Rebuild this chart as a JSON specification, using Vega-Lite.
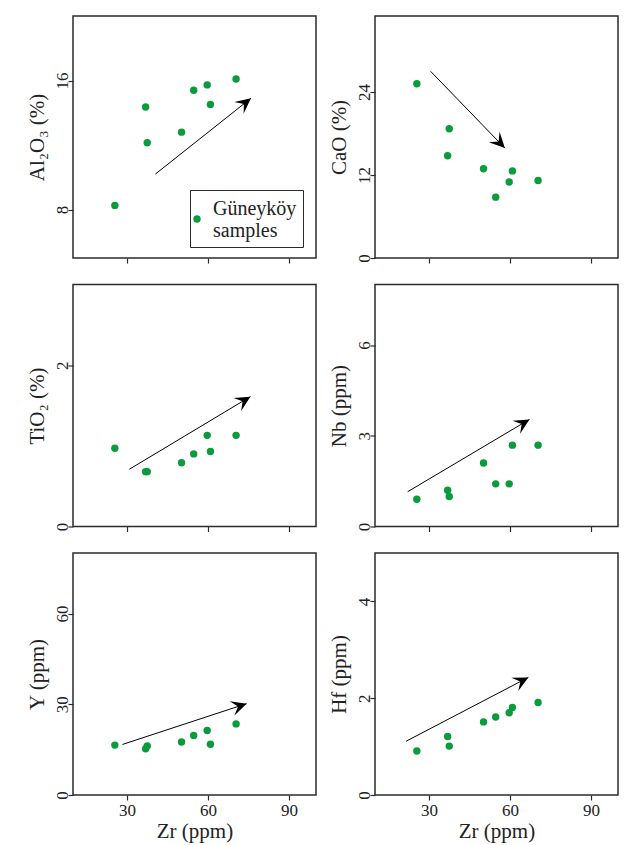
{
  "$schema": "https://vega.github.io/schema/vega-lite/v6.json",
  "padding": {"left": 25, "top": 15, "right": 5, "bottom": 5},
  "background": "white",
  "bounds": "flush",
  "columns": 2,
  "spacing": {"row": 26.5, "column": 59},
  "resolve": {"scale": {"color": "independent"}, "legend": {"color": "independent"}},
  "datasets": {
    "samples": [
      {"sample": "S1", "group": "Güneyköy samples", "Zr": 25.5, "Al2O3": 8.26, "CaO": 25.2, "TiO2": 0.97, "Nb": 0.9, "Y": 16.5, "Hf": 0.91},
      {"sample": "S2", "group": "Güneyköy samples", "Zr": 36.9, "Al2O3": 14.36, "CaO": 14.8, "TiO2": 0.68, "Nb": 1.2, "Y": 15.3, "Hf": 1.21},
      {"sample": "S3", "group": "Güneyköy samples", "Zr": 37.5, "Al2O3": 12.14, "CaO": 18.7, "TiO2": 0.68, "Nb": 0.99, "Y": 16.2, "Hf": 1.01},
      {"sample": "S4", "group": "Güneyköy samples", "Zr": 50.2, "Al2O3": 12.8, "CaO": 12.9, "TiO2": 0.79, "Nb": 2.1, "Y": 17.5, "Hf": 1.51},
      {"sample": "S5", "group": "Güneyköy samples", "Zr": 54.7, "Al2O3": 15.4, "CaO": 8.8, "TiO2": 0.9, "Nb": 1.41, "Y": 19.7, "Hf": 1.61},
      {"sample": "S6", "group": "Güneyköy samples", "Zr": 59.7, "Al2O3": 15.73, "CaO": 11.0, "TiO2": 1.13, "Nb": 1.41, "Y": 21.3, "Hf": 1.7},
      {"sample": "S7", "group": "Güneyköy samples", "Zr": 60.9, "Al2O3": 14.52, "CaO": 12.6, "TiO2": 0.93, "Nb": 2.69, "Y": 16.8, "Hf": 1.81},
      {"sample": "S8", "group": "Güneyköy samples", "Zr": 70.4, "Al2O3": 16.1, "CaO": 11.2, "TiO2": 1.13, "Nb": 2.69, "Y": 23.5, "Hf": 1.91}
    ],
    "arrows": [
      {"panel": "Al2O3", "x1": 40.5, "y1": 10.2, "x2": 75.9, "y2": 14.9},
      {"panel": "CaO", "x1": 30.6, "y1": 27.0, "x2": 58.1, "y2": 15.9},
      {"panel": "TiO2", "x1": 30.9, "y1": 0.71, "x2": 75.7, "y2": 1.61},
      {"panel": "Nb", "x1": 22.1, "y1": 1.15, "x2": 67.2, "y2": 3.54},
      {"panel": "Y", "x1": 28.3, "y1": 16.7, "x2": 74.3, "y2": 30.2},
      {"panel": "Hf", "x1": 21.5, "y1": 1.11, "x2": 66.8, "y2": 2.43}
    ]
  },
  "concat": [
    {
      "width": 243, "height": 242,
      "layer": [
        {"data": {"name": "samples"}, "mark": {"type": "point", "filled": true, "size": 55, "opacity": 1},
         "encoding": {
           "x": {"field": "Zr", "type": "quantitative", "title": null, "scale": {"domain": [10, 100], "nice": false, "zero": false}, "axis": {"values": [30, 60, 90], "labels": false}},
           "y": {"field": "Al2O3", "type": "quantitative", "title": "Al₂O₃ (%)", "scale": {"domain": [5, 20], "nice": false, "zero": false}, "axis": {"values": [8, 16]}},
           "color": {"field": "group", "type": "nominal", "scale": {"range": ["#0a9b3c"]},
             "legend": {"orient": "none", "legendX": 117, "legendY": 174, "title": " ", "titleFontSize": 10, "titlePadding": 3, "labelExpr": "split(datum.label, ' ')"}}
         }},
        {"data": {"name": "arrows"}, "transform": [{"filter": "datum.panel == 'Al2O3'"}], "mark": {"type": "rule", "color": "black", "strokeWidth": 1},
         "encoding": {"x": {"field": "x1", "type": "quantitative", "title": null}, "y": {"field": "y1", "type": "quantitative", "title": "Al₂O₃ (%)"}, "x2": {"field": "x2"}, "y2": {"field": "y2"}}},
        {"data": {"name": "arrows"}, "transform": [{"filter": "datum.panel == 'Al2O3'"}], "mark": {"type": "point", "shape": "M0,0L-1.8,-0.88L-1.06,0L-1.8,0.88Z", "filled": true, "color": "black", "opacity": 1, "size": 289, "angle": 321.5},
         "encoding": {"x": {"field": "x2", "type": "quantitative", "title": null}, "y": {"field": "y2", "type": "quantitative", "title": "Al₂O₃ (%)"}}}
      ]
    },
    {
      "width": 243, "height": 242,
      "layer": [
        {"data": {"name": "samples"}, "mark": {"type": "point", "filled": true, "size": 55, "opacity": 1, "color": "#0a9b3c"},
         "encoding": {
           "x": {"field": "Zr", "type": "quantitative", "title": null, "scale": {"domain": [10, 100], "nice": false, "zero": false}, "axis": {"values": [30, 60, 90], "labels": false}},
           "y": {"field": "CaO", "type": "quantitative", "title": "CaO (%)", "scale": {"domain": [0, 35], "nice": false, "zero": false}, "axis": {"values": [0, 12, 24]}}
         }},
        {"data": {"name": "arrows"}, "transform": [{"filter": "datum.panel == 'CaO'"}], "mark": {"type": "rule", "color": "black", "strokeWidth": 1},
         "encoding": {"x": {"field": "x1", "type": "quantitative", "title": null}, "y": {"field": "y1", "type": "quantitative", "title": "CaO (%)"}, "x2": {"field": "x2"}, "y2": {"field": "y2"}}},
        {"data": {"name": "arrows"}, "transform": [{"filter": "datum.panel == 'CaO'"}], "mark": {"type": "point", "shape": "M0,0L-1.8,-0.88L-1.06,0L-1.8,0.88Z", "filled": true, "color": "black", "opacity": 1, "size": 289, "angle": 45.9},
         "encoding": {"x": {"field": "x2", "type": "quantitative", "title": null}, "y": {"field": "y2", "type": "quantitative", "title": "CaO (%)"}}}
      ]
    },
    {
      "width": 243, "height": 242,
      "layer": [
        {"data": {"name": "samples"}, "mark": {"type": "point", "filled": true, "size": 55, "opacity": 1, "color": "#0a9b3c"},
         "encoding": {
           "x": {"field": "Zr", "type": "quantitative", "title": null, "scale": {"domain": [10, 100], "nice": false, "zero": false}, "axis": {"values": [30, 60, 90], "labels": false}},
           "y": {"field": "TiO2", "type": "quantitative", "title": "TiO₂ (%)", "scale": {"domain": [0, 3], "nice": false, "zero": false}, "axis": {"values": [0, 2], "format": "~g"}}
         }},
        {"data": {"name": "arrows"}, "transform": [{"filter": "datum.panel == 'TiO2'"}], "mark": {"type": "rule", "color": "black", "strokeWidth": 1},
         "encoding": {"x": {"field": "x1", "type": "quantitative", "title": null}, "y": {"field": "y1", "type": "quantitative", "title": "TiO₂ (%)"}, "x2": {"field": "x2"}, "y2": {"field": "y2"}}},
        {"data": {"name": "arrows"}, "transform": [{"filter": "datum.panel == 'TiO2'"}], "mark": {"type": "point", "shape": "M0,0L-1.8,-0.88L-1.06,0L-1.8,0.88Z", "filled": true, "color": "black", "opacity": 1, "size": 289, "angle": 329},
         "encoding": {"x": {"field": "x2", "type": "quantitative", "title": null}, "y": {"field": "y2", "type": "quantitative", "title": "TiO₂ (%)"}}}
      ]
    },
    {
      "width": 243, "height": 242,
      "layer": [
        {"data": {"name": "samples"}, "mark": {"type": "point", "filled": true, "size": 55, "opacity": 1, "color": "#0a9b3c"},
         "encoding": {
           "x": {"field": "Zr", "type": "quantitative", "title": null, "scale": {"domain": [10, 100], "nice": false, "zero": false}, "axis": {"values": [30, 60, 90], "labels": false}},
           "y": {"field": "Nb", "type": "quantitative", "title": "Nb (ppm)", "scale": {"domain": [0, 8], "nice": false, "zero": false}, "axis": {"values": [0, 3, 6]}}
         }},
        {"data": {"name": "arrows"}, "transform": [{"filter": "datum.panel == 'Nb'"}], "mark": {"type": "rule", "color": "black", "strokeWidth": 1},
         "encoding": {"x": {"field": "x1", "type": "quantitative", "title": null}, "y": {"field": "y1", "type": "quantitative", "title": "Nb (ppm)"}, "x2": {"field": "x2"}, "y2": {"field": "y2"}}},
        {"data": {"name": "arrows"}, "transform": [{"filter": "datum.panel == 'Nb'"}], "mark": {"type": "point", "shape": "M0,0L-1.8,-0.88L-1.06,0L-1.8,0.88Z", "filled": true, "color": "black", "opacity": 1, "size": 289, "angle": 329.3},
         "encoding": {"x": {"field": "x2", "type": "quantitative", "title": null}, "y": {"field": "y2", "type": "quantitative", "title": "Nb (ppm)"}}}
      ]
    },
    {
      "width": 243, "height": 242,
      "layer": [
        {"data": {"name": "samples"}, "mark": {"type": "point", "filled": true, "size": 55, "opacity": 1, "color": "#0a9b3c"},
         "encoding": {
           "x": {"field": "Zr", "type": "quantitative", "title": "Zr (ppm)", "scale": {"domain": [10, 100], "nice": false, "zero": false}, "axis": {"values": [30, 60, 90]}},
           "y": {"field": "Y", "type": "quantitative", "title": "Y (ppm)", "scale": {"domain": [0, 80], "nice": false, "zero": false}, "axis": {"values": [0, 30, 60]}}
         }},
        {"data": {"name": "arrows"}, "transform": [{"filter": "datum.panel == 'Y'"}], "mark": {"type": "rule", "color": "black", "strokeWidth": 1},
         "encoding": {"x": {"field": "x1", "type": "quantitative", "title": "Zr (ppm)"}, "y": {"field": "y1", "type": "quantitative", "title": "Y (ppm)"}, "x2": {"field": "x2"}, "y2": {"field": "y2"}}},
        {"data": {"name": "arrows"}, "transform": [{"filter": "datum.panel == 'Y'"}], "mark": {"type": "point", "shape": "M0,0L-1.8,-0.88L-1.06,0L-1.8,0.88Z", "filled": true, "color": "black", "opacity": 1, "size": 289, "angle": 341.7},
         "encoding": {"x": {"field": "x2", "type": "quantitative", "title": "Zr (ppm)"}, "y": {"field": "y2", "type": "quantitative", "title": "Y (ppm)"}}}
      ]
    },
    {
      "width": 243, "height": 242,
      "layer": [
        {"data": {"name": "samples"}, "mark": {"type": "point", "filled": true, "size": 55, "opacity": 1, "color": "#0a9b3c"},
         "encoding": {
           "x": {"field": "Zr", "type": "quantitative", "title": "Zr (ppm)", "scale": {"domain": [10, 100], "nice": false, "zero": false}, "axis": {"values": [30, 60, 90]}},
           "y": {"field": "Hf", "type": "quantitative", "title": "Hf (ppm)", "scale": {"domain": [0, 5], "nice": false, "zero": false}, "axis": {"values": [0, 2, 4]}}
         }},
        {"data": {"name": "arrows"}, "transform": [{"filter": "datum.panel == 'Hf'"}], "mark": {"type": "rule", "color": "black", "strokeWidth": 1},
         "encoding": {"x": {"field": "x1", "type": "quantitative", "title": "Zr (ppm)"}, "y": {"field": "y1", "type": "quantitative", "title": "Hf (ppm)"}, "x2": {"field": "x2"}, "y2": {"field": "y2"}}},
        {"data": {"name": "arrows"}, "transform": [{"filter": "datum.panel == 'Hf'"}], "mark": {"type": "point", "shape": "M0,0L-1.8,-0.88L-1.06,0L-1.8,0.88Z", "filled": true, "color": "black", "opacity": 1, "size": 289, "angle": 332.5},
         "encoding": {"x": {"field": "x2", "type": "quantitative", "title": "Zr (ppm)"}, "y": {"field": "y2", "type": "quantitative", "title": "Hf (ppm)"}}}
      ]
    }
  ],
  "config": {
    "font": "Liberation Serif",
    "view": {"stroke": "#2b2b2b", "strokeWidth": 1.5},
    "axis": {
      "domain": false, "grid": false,
      "labelFont": "Liberation Serif", "labelFontSize": 17, "labelColor": "#222",
      "titleFont": "Liberation Serif", "titleFontSize": 21, "titleFontWeight": "normal", "titleColor": "#222",
      "tickColor": "#2b2b2b", "tickSize": 5, "tickWidth": 1.2, "labelFlush": false, "labelOverlap": false
    },
    "axisY": {"labelAngle": 270, "labelAlign": "center", "labelBaseline": "alphabetic", "labelPadding": 1, "titlePadding": 6},
    "axisX": {"labelPadding": 2, "titlePadding": 2},
    "legend": {
      "labelFont": "Liberation Serif", "labelFontSize": 20, "labelColor": "#222", "labelBaseline": "bottom",
      "strokeColor": "#2b2b2b", "fillColor": "white", "padding": 6, "labelOffset": 6, "symbolOffset": -9,
      "symbolSize": 55, "symbolType": "circle", "labelLimit": 200
    }
  }
}
